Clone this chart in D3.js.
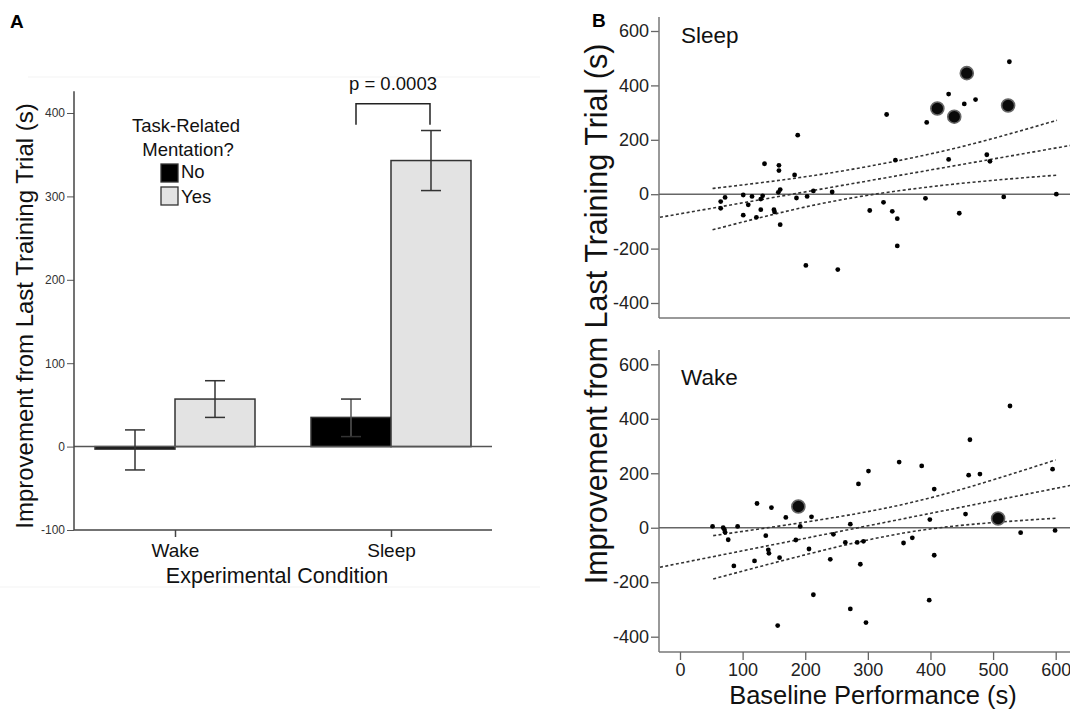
<!DOCTYPE html>
<html>
<head>
<meta charset="utf-8">
<script src="https://cdn.jsdelivr.net/npm/d3@7"></script>
<style>
  body { margin: 0; background: #fff; }
  svg { display: block; font-family: "Liberation Sans", Arial, sans-serif; }
  .dash { fill: none; stroke: #333; stroke-width: 1.6; stroke-dasharray: 3 2.4; }
</style>
</head>
<body>
<main></main>
<script>
// data
const conditions = ["Wake", "Sleep"];
const mentation = ["No", "Yes"];
const meanNo = [-3, 35];
const meanYes = [57, 343];
const errNo = [[-28, 20], [12, 57]];
const errYes = [[35, 79], [307, 379]];
const yTicksA = [-100, 0, 100, 200, 300, 400];

const sleepPts = [[65,-27],[72,-12],[65,-52],[101,-3],[101,-77],[109,-39],[115,-8],[122,-85],
  [129,-57],[129,-18],[132,-6],[135,112],[150,-57],[151,-65],[158,106],[158,87],[157,7],[160,17],
  [160,-112],[183,71],[186,-14],[188,217],[201,-262],[203,-8],[213,12],[243,8],[252,-277],
  [303,-60],[325,-30],[330,293],[339,-63],[344,125],[347,-90],[347,-190],[392,-15],[394,264],
  [429,368],[429,128],[446,-70],[454,332],[472,348],[490,145],[495,121],[517,-10],[526,487],[601,0]];
const sleepBig = [[411,315],[438,285],[458,445],[524,326]];
const sleepFit = [[-32,-85],[623,179]];
const sleepUpper = [[52,21],[175,56],[300,102],[450,175],[602,272]];
const sleepLower = [[52,-131],[175,-60],[300,-4],[450,40],[602,70]];

const wakePts = [[52,5],[69,0],[71,-7],[72,-17],[77,-44],[86,-140],[92,5],[119,-122],[123,89],
  [137,-29],[141,-81],[142,-94],[146,74],[156,-359],[159,-110],[169,38],[185,-45],[192,5],
  [210,40],[206,-78],[213,-246],[240,-116],[245,-24],[264,-54],[272,13],[272,-298],[283,-54],
  [285,161],[288,-134],[293,-50],[297,-348],[301,208],[350,241],[357,-56],[371,-37],[386,227],
  [398,-266],[399,30],[406,142],[406,-101],[456,50],[461,193],[463,323],[479,197],[527,447],
  [544,-18],[595,215],[599,-10]];
const wakeBig = [[189,78],[508,34]];
const wakeFit = [[-32,-145],[623,155]];
const wakeUpper = [[53,-29],[250,39],[415,119],[600,249]];
const wakeLower = [[53,-188],[250,-71],[415,0],[601,35]];

const xTicksB = [0, 100, 200, 300, 400, 500, 600];
const yTicksB = [-400, -200, 0, 200, 400, 600];

const width = 1070, height = 711;
const svg = d3.select("main").append("svg")
    .attr("width", width)
    .attr("height", height);

const fmt = d => String(d);   // plain hyphen minus like the figure

// faint frame lines of panel A
svg.append("line").attr("x1", 28).attr("x2", 540).attr("y1", 77).attr("y2", 77)
    .attr("stroke", "#f3f3f3");
svg.append("line").attr("x1", 0).attr("x2", 540).attr("y1", 587).attr("y2", 587)
    .attr("stroke", "#f3f3f3");

// ---------- panel A ----------
const yA = d3.scaleLinear().domain([-100, 400]).range([530, 113]);
const xA = d3.scalePoint().domain(conditions).range([74, 492]).padding(0.4676);
const sub = d3.scaleBand().domain(mentation).range([-80, 80]);

const gA = svg.append("g");

gA.append("text").attr("x", 10).attr("y", 28)
    .attr("font-size", 19).attr("font-weight", "bold").text("A");

const axA = gA.append("g").attr("transform", "translate(74,0)")
    .call(d3.axisLeft(yA).tickValues(yTicksA).tickFormat(fmt).tickSize(7).tickPadding(2));
axA.select(".domain").remove();
axA.selectAll(".tick line").attr("stroke", "#555");
axA.selectAll(".tick text").attr("font-size", 12).attr("fill", "#333")
    .attr("font-family", "Liberation Sans, Arial, sans-serif");

// bars
const barRows = conditions.map((c, i) => [
  { c, m: "No", v: meanNo[i], e: errNo[i] },
  { c, m: "Yes", v: meanYes[i], e: errYes[i] }
]).flat();

gA.selectAll("rect.bar").data(barRows).enter().append("rect")
    .attr("class", "bar")
    .attr("x", d => xA(d.c) + sub(d.m))
    .attr("width", sub.bandwidth())
    .attr("y", d => yA(Math.max(0, d.v)))
    .attr("height", d => Math.max(Math.abs(yA(d.v) - yA(0)), 2))
    .attr("fill", d => d.m === "No" ? "#000" : "#e3e3e3")
    .attr("stroke", "#333").attr("stroke-width", 1.5);

// zero line + axes lines
gA.append("line").attr("x1", 74).attr("x2", 492).attr("y1", yA(0)).attr("y2", yA(0))
    .attr("stroke", "#555").attr("stroke-width", 1.5);
gA.append("line").attr("x1", 74).attr("x2", 74).attr("y1", yA(426)).attr("y2", yA(-100))
    .attr("stroke", "#444").attr("stroke-width", 1.5);
gA.append("line").attr("x1", 74).attr("x2", 492).attr("y1", yA(-100)).attr("y2", yA(-100))
    .attr("stroke", "#444").attr("stroke-width", 1.5);

// error bars
const eb = gA.selectAll("g.err").data(barRows).enter().append("g")
    .attr("transform", d => `translate(${xA(d.c) + sub(d.m) + sub.bandwidth() / 2},0)`)
    .attr("stroke", "#333").attr("stroke-width", 1.5);
eb.append("line").attr("y1", d => yA(d.e[0])).attr("y2", d => yA(d.e[1]))
    .attr("stroke", d => d.m === "No" && d.c === "Sleep" ? "#555" : "#333");
eb.append("line").attr("x1", -10).attr("x2", 10).attr("y1", d => yA(d.e[0])).attr("y2", d => yA(d.e[0]));
eb.append("line").attr("x1", -10).attr("x2", 10).attr("y1", d => yA(d.e[1])).attr("y2", d => yA(d.e[1]));

// category axis
const axX = gA.append("g").attr("transform", `translate(0,${yA(-100)})`)
    .call(d3.axisBottom(xA).tickSize(7).tickPadding(7));
axX.select(".domain").remove();
axX.selectAll(".tick line").attr("stroke", "#444").attr("stroke-width", 1.5);
axX.selectAll(".tick text").attr("font-size", 19).attr("fill", "#111")
    .attr("font-family", "Liberation Sans, Arial, sans-serif");

gA.append("text").attr("x", 277).attr("y", 583).attr("text-anchor", "middle")
    .attr("font-size", 21.5).attr("fill", "#111").text("Experimental Condition");
gA.append("text").attr("transform", "translate(33,316) rotate(-90)")
    .attr("text-anchor", "middle").attr("font-size", 24).attr("fill", "#111")
    .text("Improvement from Last Training Trial (s)");

// significance bracket
const bL = xA("Sleep") + sub("No") + sub.bandwidth() / 2 + 5;
const bR = xA("Sleep") + sub("Yes") + sub.bandwidth() / 2 - 1;
gA.append("path")
    .attr("d", `M${bL},${yA(386)}V${yA(411)}H${bR}V${yA(386)}`)
    .attr("fill", "none").attr("stroke", "#222").attr("stroke-width", 1.5);
gA.append("text").attr("x", (bL + bR) / 2).attr("y", yA(428)).attr("text-anchor", "middle")
    .attr("font-size", 18.5).attr("fill", "#111").text("p = 0.0003");

// legend
const leg = gA.append("g");
leg.append("text").attr("x", 186).attr("y", 132).attr("text-anchor", "middle")
    .attr("font-size", 18.5).attr("fill", "#111").text("Task-Related");
leg.append("text").attr("x", 188).attr("y", 156).attr("text-anchor", "middle")
    .attr("font-size", 18.5).attr("fill", "#111").text("Mentation?");
mentation.forEach((m, i) => {
  leg.append("rect").attr("x", 161).attr("y", 164 + i * 23).attr("width", 17).attr("height", 18)
      .attr("fill", m === "No" ? "#000" : "#e3e3e3").attr("stroke", "#333").attr("stroke-width", 1.3);
  leg.append("text").attr("x", 181).attr("y", 178 + i * 24.5)
      .attr("font-size", 18.5).attr("fill", "#111").text(m);
});

// ---------- panel B ----------
const xB = d3.scaleLinear().domain([0, 600]).range([680, 1055.7]);
const panels = [
  { name: "Sleep", pts: sleepPts, big: sleepBig, fit: sleepFit, up: sleepUpper, lo: sleepLower,
    y: d3.scaleLinear().domain([-400, 600]).range([303, 31]), top: 17, bottom: 318, xAxis: false },
  { name: "Wake", pts: wakePts, big: wakeBig, fit: wakeFit, up: wakeUpper, lo: wakeLower,
    y: d3.scaleLinear().domain([-400, 600]).range([636.7, 364.3]), top: 350, bottom: 652, xAxis: true }
];

svg.append("text").attr("x", 592).attr("y", 27)
    .attr("font-size", 19).attr("font-weight", "bold").text("B");

panels.forEach(p => {
  const g = svg.append("g");
  const ax = g.append("g").attr("transform", "translate(659,0)")
      .call(d3.axisLeft(p.y).tickValues(yTicksB).tickFormat(fmt).tickSize(8).tickPadding(2));
  ax.select(".domain").remove();
  ax.selectAll(".tick line").attr("stroke", "#666").attr("stroke-width", 1.3);
  ax.selectAll(".tick text").attr("font-size", 18).attr("fill", "#222")
      .attr("font-family", "Liberation Sans, Arial, sans-serif");

  g.append("line").attr("x1", 659).attr("x2", 659).attr("y1", p.top).attr("y2", p.bottom)
      .attr("stroke", "#777").attr("stroke-width", 1.5);
  g.append("line").attr("x1", 659).attr("x2", 1070).attr("y1", p.bottom).attr("y2", p.bottom)
      .attr("stroke", "#777").attr("stroke-width", 1.5);
  g.append("line").attr("x1", 659).attr("x2", 1070).attr("y1", p.y(0)).attr("y2", p.y(0))
      .attr("stroke", "#666").attr("stroke-width", 1.6);

  if (p.xAxis) {
    const bx = g.append("g").attr("transform", `translate(0,${p.bottom})`)
        .call(d3.axisBottom(xB).tickValues(xTicksB).tickFormat(fmt).tickSize(8).tickPadding(3));
    bx.select(".domain").remove();
    bx.selectAll(".tick line").attr("stroke", "#666").attr("stroke-width", 1.3);
    bx.selectAll(".tick text").attr("font-size", 18).attr("fill", "#222")
        .attr("font-family", "Liberation Sans, Arial, sans-serif");
  }

  const line = d3.line().x(d => xB(d[0])).y(d => p.y(d[1])).curve(d3.curveNatural);
  [p.fit, p.up, p.lo].forEach(l => g.append("path").attr("class", "dash").attr("d", line(l)));

  g.selectAll("circle.pt").data(p.pts).enter().append("circle")
      .attr("cx", d => xB(d[0])).attr("cy", d => p.y(d[1])).attr("r", 2.4).attr("fill", "#000");
  g.selectAll("circle.big").data(p.big).enter().append("circle")
      .attr("cx", d => xB(d[0])).attr("cy", d => p.y(d[1])).attr("r", 6.5)
      .attr("fill", "#0a0a0a").attr("stroke", "#666").attr("stroke-width", 1.6);

  g.append("text").attr("x", 681).attr("y", p.top + (p.xAxis ? 35 : 26))
      .attr("font-size", 22.5).attr("fill", "#111").text(p.name);
});

svg.append("text").attr("x", 873).attr("y", 704).attr("text-anchor", "middle")
    .attr("font-size", 25.5).attr("fill", "#111").text("Baseline Performance (s)");
svg.append("text").attr("transform", "translate(607,314) rotate(-90)")
    .attr("text-anchor", "middle").attr("font-size", 30.5).attr("fill", "#111")
    .text("Improvement from Last Training Trial (s)");
</script>
</body>
</html>
